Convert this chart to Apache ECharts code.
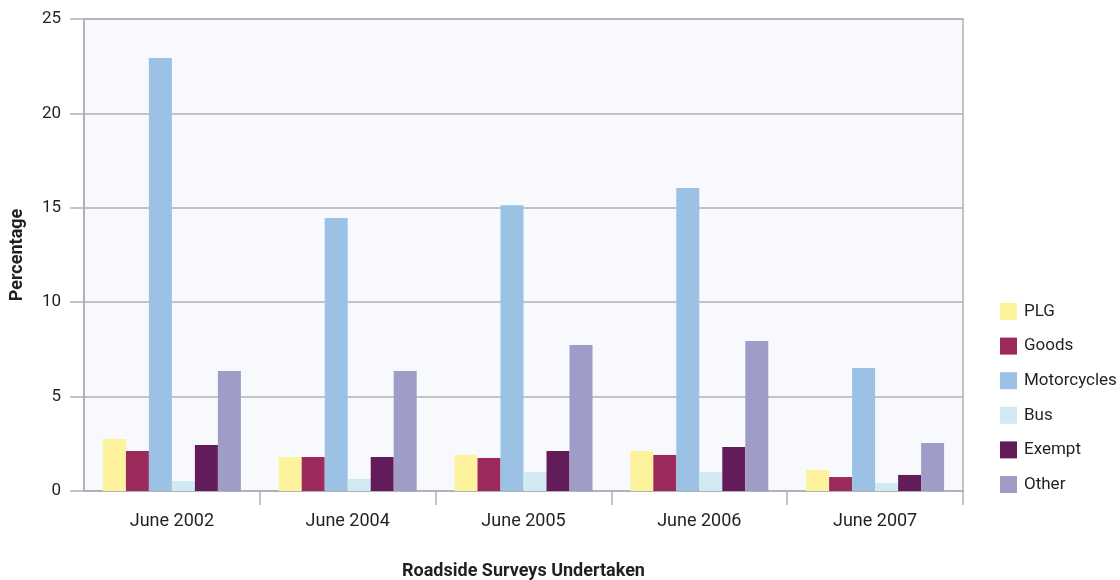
<!DOCTYPE html>
<html>
<head>
<meta charset="utf-8">
<script src="https://cdn.jsdelivr.net/npm/echarts@6/dist/echarts.min.js"></script>
<style>
  html, body { margin: 0; padding: 0; background: #ffffff; }
  #chart { width: 1120px; height: 580px; }
</style>
</head>
<body>
<div id="chart"></div>
<script>
// Survey dates (x categories)
const surveys = ['June 2002', 'June 2004', 'June 2005', 'June 2006', 'June 2007'];

// Percentage of vehicles by class, one array per class
const plg         = [2.75, 1.80, 1.91, 2.12, 1.11];
const goods       = [2.12, 1.80, 1.75, 1.91, 0.74];
const motorcycles = [22.93, 14.46, 15.14, 16.05, 6.51];
const bus         = [0.53, 0.64, 1.00, 1.00, 0.42];
const exempt      = [2.44, 1.80, 2.12, 2.33, 0.85];
const other       = [6.36, 6.36, 7.73, 7.94, 2.54];

const seriesNames  = ['PLG', 'Goods', 'Motorcycles', 'Bus', 'Exempt', 'Other'];
const seriesValues = [plg, goods, motorcycles, bus, exempt, other];
const seriesColors = ['#fef39d', '#9c2a5c', '#9bc2e4', '#d0e9f2', '#621c5a', '#a09cc8'];

const FONT = 'Roboto, "DejaVu Sans", sans-serif';
const TEXT = '#231f20';
const LINE = '#b1b1b6';

const chart = echarts.init(document.getElementById('chart'), null, { renderer: 'canvas' });

chart.setOption({
  animation: false,
  textStyle: { fontFamily: FONT, color: TEXT },
  grid: {
    left: 84, right: 157, top: 19, bottom: 89,
    outerBoundsMode: 'none',
    containLabel: false,
    show: true, backgroundColor: '#f8f9fd',
    borderColor: LINE, borderWidth: 1.5
  },
  legend: {
    orient: 'vertical',
    left: 995, top: 298,
    itemWidth: 17, itemHeight: 17, itemGap: 17.6,
    icon: 'rect',
    textStyle: { fontFamily: FONT, fontSize: 17, color: TEXT, padding: [0, 0, 0, 2] },
    data: seriesNames
  },
  xAxis: {
    type: 'category',
    data: surveys,
    boundaryGap: true,
    name: 'Roadside Surveys Undertaken',
    nameLocation: 'middle',
    nameGap: 71,
    nameTextStyle: { fontFamily: FONT, fontSize: 18, fontWeight: 'bold', color: TEXT },
    axisLine: { show: true, lineStyle: { color: LINE, width: 2 } },
    axisTick: {
      show: true, length: 14, inside: false,
      interval: function (i) { return i > 0; },
      lineStyle: { color: LINE, width: 1.5 }
    },
    axisLabel: { fontFamily: FONT, fontSize: 18, color: TEXT, margin: 21 }
  },
  yAxis: {
    type: 'value',
    min: 0, max: 25, interval: 5,
    name: 'Percentage',
    nameLocation: 'middle',
    nameGap: 58,
    nameRotate: 90,
    nameTextStyle: { fontFamily: FONT, fontSize: 18, fontWeight: 'bold', color: TEXT },
    axisLine: { show: true, lineStyle: { color: LINE, width: 2 } },
    axisTick: { show: true, length: 14, inside: false, lineStyle: { color: LINE, width: 1.5 } },
    axisLabel: { fontFamily: FONT, fontSize: 17, color: TEXT, margin: 23 },
    splitLine: { show: true, lineStyle: { color: LINE, width: 1.5 } }
  },
  series: seriesNames.map((name, i) => ({
    name: name,
    type: 'bar',
    data: seriesValues[i],
    barWidth: 23,
    barGap: '0%',
    itemStyle: { color: seriesColors[i] }
  }))
});
</script>
</body>
</html>
